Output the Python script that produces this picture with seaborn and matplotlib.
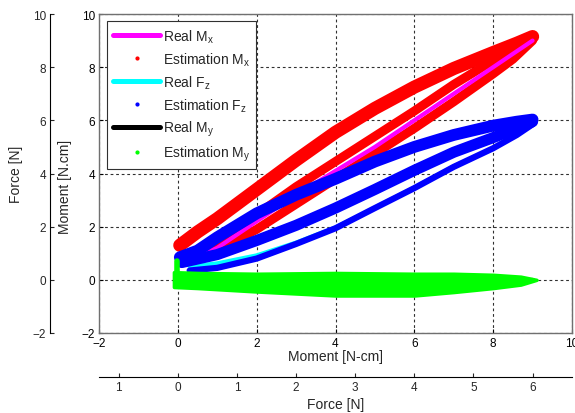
import numpy as np
import pandas as pd
import matplotlib.pyplot as plt
import seaborn as sns
from matplotlib.lines import Line2D

# --- valores (eixo Moment, N.cm) ---
# Estimation Mx: ramo superior, ramo de volta acima e abaixo da curva real
mx_up_x = [0.05, 0.5, 1, 2, 3, 4, 5, 6, 7, 8, 8.6, 9.0]
mx_up_y = [1.3, 1.8, 2.3, 3.4, 4.5, 5.55, 6.45, 7.25, 7.95, 8.55, 8.9, 9.15]
mx_hi_x = [0.3, 1, 2, 3, 4, 5, 6, 7, 8, 8.5, 9.0]
mx_hi_y = [0.95, 1.45, 2.45, 3.5, 4.45, 5.4, 6.35, 7.35, 8.25, 8.65, 9.05]
mx_lo_x = [0.3, 1, 2, 3, 4, 5, 6, 7, 8, 8.5, 9.0]
mx_lo_y = [0.75, 1.1, 1.9, 2.85, 3.8, 4.75, 5.7, 6.7, 7.75, 8.3, 9.0]
# Real Mx
real_mx_x = [0.3, 1, 2, 3, 4, 5, 6, 7, 8, 9.0]
real_mx_y = [0.75, 1.2, 2.2, 3.2, 4.1, 5.0, 6.0, 7.0, 8.0, 9.0]

# Estimation Fz: três faixas
fz_up_x = [0.05, 0.5, 1, 2, 3, 4, 5, 6, 7, 8, 8.6, 9.0]
fz_up_y = [0.85, 1.1, 1.6, 2.5, 3.2, 3.8, 4.45, 5.0, 5.45, 5.8, 5.95, 6.03]
fz_mid_x = [0.1, 1, 2, 3, 4, 5, 6, 7, 8, 8.6, 9.0]
fz_mid_y = [0.65, 0.95, 1.48, 2.05, 2.7, 3.4, 4.12, 4.8, 5.35, 5.7, 5.95]
fz_lo_x = [0.3, 1, 2, 3, 4, 5, 6, 7, 8, 8.6, 9.0]
fz_lo_y = [0.35, 0.45, 0.8, 1.35, 1.94, 2.7, 3.45, 4.25, 4.95, 5.45, 5.85]
# Real Fz
real_fz_x = [0.3, 1, 2, 3, 4, 5, 6, 7, 8, 8.6, 9.0]
real_fz_y = [0.5, 0.62, 0.92, 1.4, 1.97, 2.72, 3.47, 4.27, 4.95, 5.5, 5.92]

# Estimation My (faixa em torno de zero) e Real My
my_x = [-0.1, 0.5, 2, 4, 6, 7, 8, 8.7, 9.1]
my_hi = [0.29, 0.26, 0.23, 0.26, 0.23, 0.23, 0.19, 0.12, 0.0]
my_lo = [-0.27, -0.31, -0.44, -0.59, -0.59, -0.46, -0.31, -0.18, 0.0]
my_spike_x = [-0.02, -0.02]
my_spike_y = [0.0, 0.72]
real_my_x = [0.0, 9.0]
real_my_y = [0.0, 0.0]

# eixos
moment_ticks = [-2, 0, 2, 4, 6, 8, 10]
force_ticks = [-1, 0, 1, 2, 3, 4, 5, 6]
force_tick_labels = ['1', '0', '1', '2', '3', '4', '5', '6']

legend_labels = ['Real M$_\\mathregular{x}$', 'Estimation M$_\\mathregular{x}$',
                 'Real F$_\\mathregular{z}$', 'Estimation F$_\\mathregular{z}$',
                 'Real M$_\\mathregular{y}$', 'Estimation M$_\\mathregular{y}$']

sns.set_style('white')
plt.rcParams['font.family'] = ['Liberation Sans', 'DejaVu Sans']
plt.rcParams['mathtext.fontset'] = 'custom'
plt.rcParams['mathtext.rm'] = 'Liberation Sans'

W, H = 575, 414
fig = plt.figure(figsize=(W / 100, H / 100), dpi=100)
L, R, T, B = 99, 572, 15, 334
ax = fig.add_axes([L / W, (H - B) / H, (R - L) / W, (B - T) / H])

RED, BLUE, GREEN = '#ff0000', '#0000ff', '#00ff00'


def band(x, y, color, lw, z):
    sns.lineplot(x=x, y=y, sort=False, estimator=None, color=color, linewidth=lw,
                 solid_capstyle='round', solid_joinstyle='round', ax=ax, zorder=z, legend=False)


# Mx
band(mx_up_x, mx_up_y, RED, 9.5, 2)
band(mx_hi_x, mx_hi_y, RED, 6.5, 2)
band(mx_lo_x, mx_lo_y, RED, 6.5, 2)
band(real_mx_x, real_mx_y, '#ff00ff', 3, 2.1)
# Fz
band(real_fz_x, real_fz_y, '#00ffff', 3, 2.2)
band(fz_up_x, fz_up_y, BLUE, 8.5, 2.3)
band(fz_mid_x, fz_mid_y, BLUE, 8, 2.3)
band(fz_lo_x, fz_lo_y, BLUE, 4.5, 2.3)
# My
band(real_my_x, real_my_y, 'black', 3, 2.4)
ax.fill_between(my_x, my_lo, my_hi, color=GREEN, lw=2.5, edgecolor=GREEN, zorder=2.5)
band(my_spike_x, my_spike_y, GREEN, 4, 2.5)

ax.set_xlim(-2, 10)
ax.set_ylim(-2, 10)
ax.set_xticks(moment_ticks)
ax.set_yticks(moment_ticks)
ax.tick_params(direction='in', length=3, labelsize=8.5, pad=3, colors='black',
               top=True, right=True)
for s in ax.spines.values():
    s.set_visible(True)
    s.set_color('#707070')
    s.set_linewidth(1.0)
ax.grid(True, color='#303030', linestyle=(0, (2.5, 2.5)), linewidth=0.8)
ax.set_axisbelow(True)
ax.set_xlabel('Moment [N-cm]', fontsize=10)
ax.set_ylabel('Moment [N.cm]', fontsize=10)
ax.xaxis.set_label_coords(0.5, -0.05)
ax.yaxis.set_label_coords(-0.058, 0.46)

# eixo Force à esquerda
axf = ax.twinx()
axf.set_ylim(-2, 10)
axf.set_yticks(moment_ticks)
axf.yaxis.tick_left()
axf.yaxis.set_label_position('left')
for k in ['right', 'top', 'bottom']:
    axf.spines[k].set_visible(False)
axf.spines['left'].set_position(('axes', -(L - 50) / (R - L)))
axf.spines['left'].set_color('black')
axf.tick_params(axis='y', direction='in', length=3, labelsize=8.5, pad=3, left=True, right=False)
axf.set_ylabel('Force [N]', fontsize=10)
axf.yaxis.set_label_coords(-0.16, 0.5)

# eixo Force embaixo
axb = ax.twiny()
axb.set_xlim(-4 / 3, 20 / 3)
axb.set_xticks(force_ticks)
axb.set_xticklabels(force_tick_labels)
axb.xaxis.tick_bottom()
axb.xaxis.set_label_position('bottom')
for k in ['right', 'top', 'left']:
    axb.spines[k].set_visible(False)
axb.spines['bottom'].set_position(('axes', -(378 - B) / (B - T)))
axb.spines['bottom'].set_color('black')
axb.tick_params(axis='x', direction='in', length=3, labelsize=8.5, pad=3, bottom=True, top=False)
axb.set_xlabel('Force [N]', fontsize=10)
axb.xaxis.set_label_coords(0.5, -0.2)

handles = [
    Line2D([], [], color='#ff00ff', lw=3.6),
    Line2D([], [], ls='none', marker='.', color=RED, ms=4),
    Line2D([], [], color='#00ffff', lw=3.6),
    Line2D([], [], ls='none', marker='.', color=BLUE, ms=4),
    Line2D([], [], color='black', lw=3.6),
    Line2D([], [], ls='none', marker='.', color=GREEN, ms=4),
]
leg = axb.legend(handles, legend_labels, loc='upper left',
                 bbox_to_anchor=(107 / W, 1 - 22 / H), bbox_transform=fig.transFigure,
                 borderaxespad=0, fontsize=10, handlelength=3.4, handletextpad=0.15,
                 labelspacing=0.4, borderpad=0.45, fancybox=False, framealpha=1,
                 edgecolor='#303030')
leg.get_frame().set_linewidth(0.8)
leg.set_zorder(10)

fig.savefig('out.png', dpi=100)
